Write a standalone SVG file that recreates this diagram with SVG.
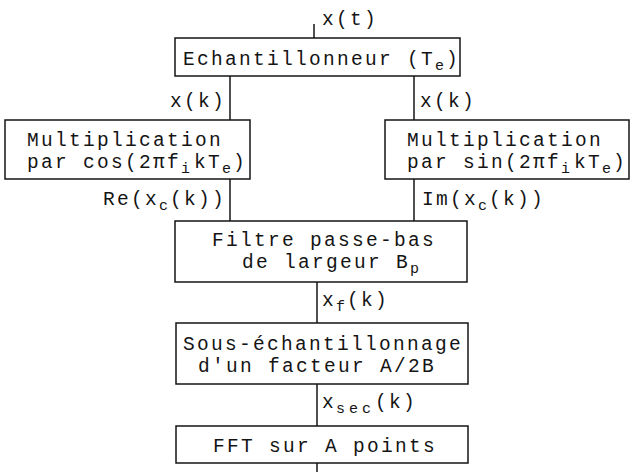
<svg xmlns="http://www.w3.org/2000/svg" width="630" height="472" viewBox="0 0 630 472">
  <style>
    .box { fill: none; stroke: #141414; stroke-width: 1.5; }
    .wire { fill: none; stroke: #141414; stroke-width: 1.5; }
    text { font-family: "Liberation Mono", "DejaVu Sans Mono", monospace; font-size: 19.5px; letter-spacing: 2.3px; fill: #141414; }
    .sub { font-size: 15px; letter-spacing: 2px; }
    .end { text-anchor: end; }
  </style>
  <rect width="630" height="472" fill="#fff"/>

  <!-- signal paths and their labels -->
  <g id="connectors">
    <path class="wire" d="M314 24 V38"/>
    <path class="wire" d="M230 76 V120"/>
    <path class="wire" d="M414 76 V120"/>
    <path class="wire" d="M230 179 V221"/>
    <path class="wire" d="M414 179 V221"/>
    <path class="wire" d="M317 282 V323"/>
    <path class="wire" d="M317 384 V426"/>
    <path class="wire" d="M317 463 V472"/>
    <text x="322" y="25">x(t)</text>
    <text class="end" x="226" y="107">x(k)</text>
    <text x="420" y="107">x(k)</text>
    <text class="end" x="226" y="205">Re(x<tspan class="sub" dy="5">c</tspan><tspan dy="-5">(k))</tspan></text>
    <text x="422" y="205">Im(x<tspan class="sub" dy="5">c</tspan><tspan dy="-5">(k))</tspan></text>
    <text x="322" y="306">x<tspan class="sub" dy="5">f</tspan><tspan dy="-5">(k)</tspan></text>
    <text x="322" y="408">x<tspan class="sub" dy="5" style="letter-spacing:4px">sec</tspan><tspan dy="-5">(k)</tspan></text>
  </g>

  <g id="echantillonneur">
    <rect class="box" x="175" y="38" width="285" height="38"/>
    <text x="183" y="65">Echantillonneur (T<tspan class="sub" dy="5">e</tspan><tspan dy="-5">)</tspan></text>
  </g>

  <g id="mult-cos">
    <rect class="box" x="5" y="120" width="245" height="59"/>
    <text x="27" y="146">Multiplication</text>
    <text x="27" y="168">par cos(2πf<tspan class="sub" dy="5">i</tspan><tspan dy="-5" dx="2">kT</tspan><tspan class="sub" dy="5">e</tspan><tspan dy="-5">)</tspan></text>
  </g>

  <g id="mult-sin">
    <rect class="box" x="385" y="120" width="244" height="59"/>
    <text x="407" y="146">Multiplication</text>
    <text x="407" y="168">par sin(2πf<tspan class="sub" dy="5">i</tspan><tspan dy="-5" dx="2">kT</tspan><tspan class="sub" dy="5">e</tspan><tspan dy="-5">)</tspan></text>
  </g>

  <g id="filtre">
    <rect class="box" x="175" y="221" width="292" height="61"/>
    <text x="212" y="246">Filtre passe-bas</text>
    <text x="242" y="268">de largeur B<tspan class="sub" dy="5">p</tspan></text>
  </g>

  <g id="sous-echantillonnage">
    <rect class="box" x="176" y="323" width="292" height="61"/>
    <text x="183" y="350">Sous-échantillonnage</text>
    <text x="198" y="372">d'un facteur A/2B</text>
  </g>

  <g id="fft">
    <rect class="box" x="176" y="426" width="292" height="37"/>
    <text x="213" y="452">FFT sur A points</text>
  </g>
</svg>
